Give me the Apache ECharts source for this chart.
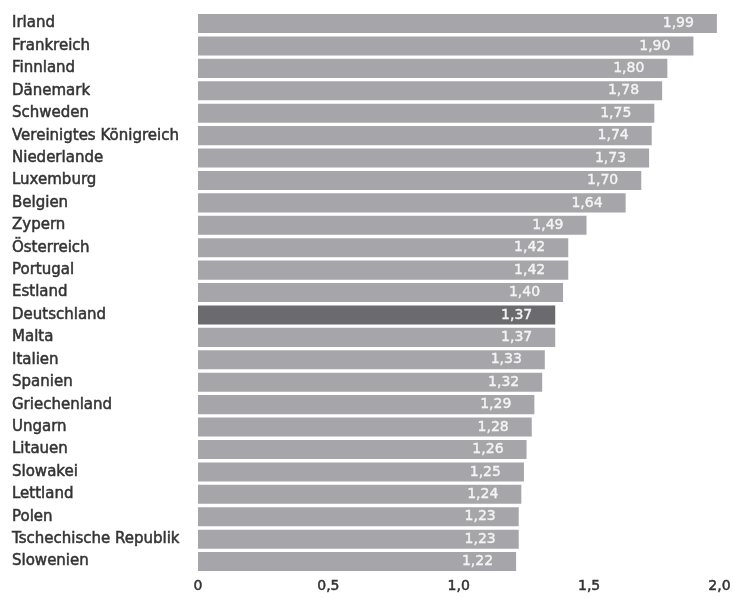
<!DOCTYPE html>
<html><head><meta charset="utf-8">
<script src="https://cdn.jsdelivr.net/npm/echarts@6/dist/echarts.min.js"></script>
<style>html,body{margin:0;padding:0;background:#fff}#c{width:734px;height:598px}</style>
</head><body><div id="c"></div>
<script>
const categories = ["Irland","Frankreich","Finnland","Dänemark","Schweden","Vereinigtes Königreich","Niederlande","Luxemburg","Belgien","Zypern","Österreich","Portugal","Estland","Deutschland","Malta","Italien","Spanien","Griechenland","Ungarn","Litauen","Slowakei","Lettland","Polen","Tschechische Republik","Slowenien"];
const values = [1.99,1.90,1.80,1.78,1.75,1.74,1.73,1.70,1.64,1.49,1.42,1.42,1.40,1.37,1.37,1.33,1.32,1.29,1.28,1.26,1.25,1.24,1.23,1.23,1.22];
const highlight = "Deutschland";
const xTicks = [0, 0.5, 1.0, 1.5, 2.0];

const font = "'DejaVu Sans', sans-serif";
const chart = echarts.init(document.getElementById('c'));
chart.setOption({
  animation: false,
  grid: { left: 198, right: 14.5, top: 12.3, bottom: 25.2, containLabel: false },
  xAxis: {
    type: 'value', min: 0, max: 2, interval: 0.5,
    axisLine: { show: false }, axisTick: { show: false }, splitLine: { show: false },
    axisLabel: { fontFamily: font, fontSize: 14, color: '#333', margin: 7,
      textBorderColor: '#333', textBorderWidth: 0.5,
      formatter: v => v.toFixed(1).replace('.', ',').replace(/^0,0$/, '0') }
  },
  yAxis: {
    type: 'category', data: categories, inverse: true,
    axisLine: { show: false }, axisTick: { show: false },
    axisLabel: { fontFamily: font, fontSize: 15, color: '#333', align: 'left', margin: 186,
      textBorderColor: '#333', textBorderWidth: 0.5 }
  },
  series: [{
    type: 'bar', barCategoryGap: '15%',
    data: values.map((v, i) => ({ value: v,
      itemStyle: { color: categories[i] === highlight ? '#6b6b6f' : '#a6a6aa' } })),
    label: { show: true, position: 'insideRight', distance: 23, color: '#f4f4f4',
      fontFamily: font, fontSize: 14, textBorderColor: '#f4f4f4', textBorderWidth: 0.4,
      formatter: p => p.value.toFixed(2).replace('.', ',') }
  }]
});
</script></body></html>
